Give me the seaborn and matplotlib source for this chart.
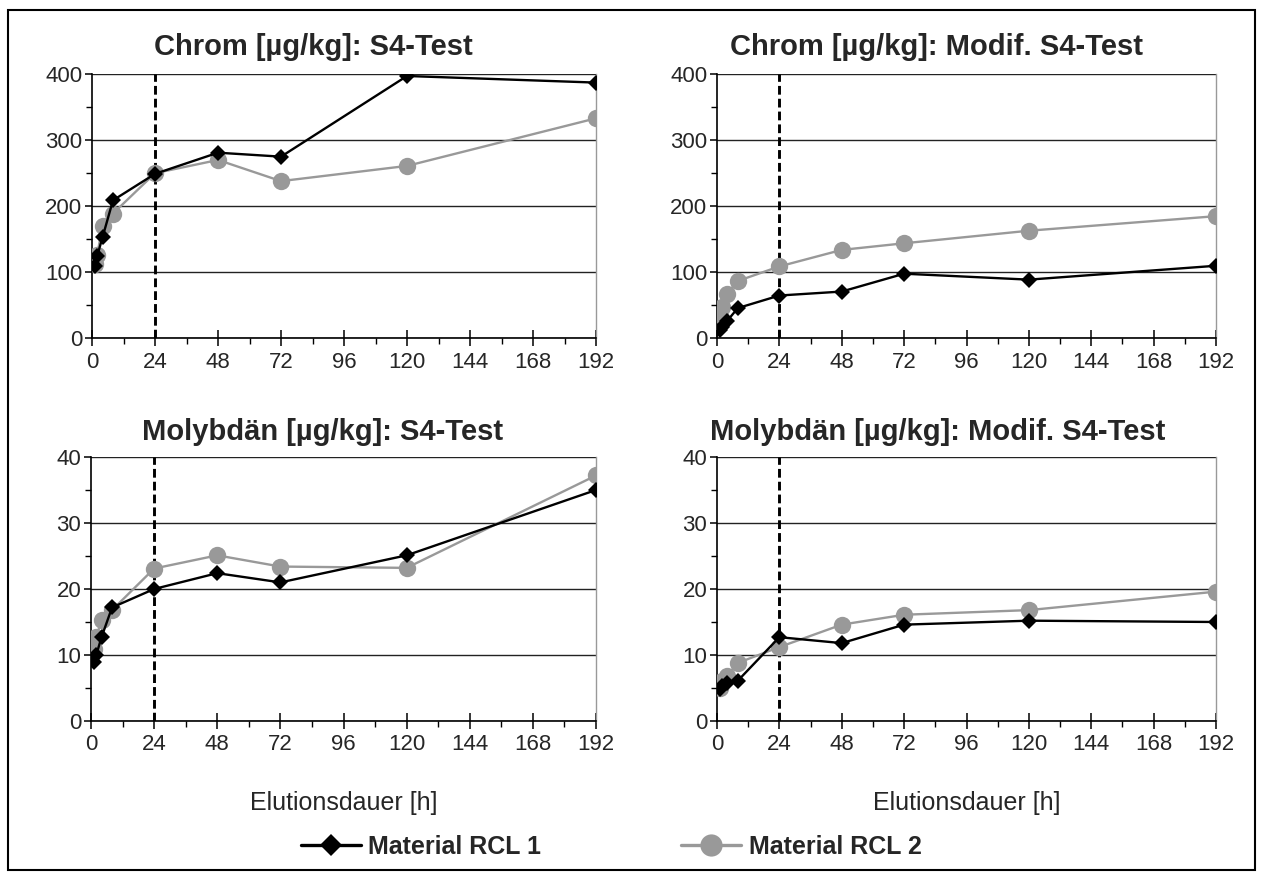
import matplotlib
matplotlib.use("Agg")
import matplotlib.pyplot as plt
from matplotlib.lines import Line2D
from matplotlib.patches import Rectangle
from matplotlib.ticker import MultipleLocator
import seaborn as sns

# Elution times [h]
hours = [1, 2, 4, 8, 24, 48, 72, 120, 192]

# Chromium [µg/kg]
cr_s4_rcl1 = [110, 125, 153, 209, 249, 281, 275, 397, 387]
cr_s4_rcl2 = [113, 127, 170, 189, 250, 270, 238, 261, 333]
cr_mod_rcl1 = [13, 18, 27, 46, 65, 71, 98, 89, 110]
cr_mod_rcl2 = [35, 48, 68, 87, 109, 134, 144, 163, 185]

# Molybdenum [µg/kg]
mo_s4_rcl1 = [9.0, 10.0, 12.7, 17.2, 20.0, 22.4, 21.0, 25.1, 35.0]
mo_s4_rcl2 = [10.9, 12.7, 15.3, 16.8, 23.1, 25.1, 23.4, 23.2, 37.2]
mo_mod_rcl1 = [4.8, 5.3, 5.8, 6.1, 12.7, 11.8, 14.6, 15.2, 15.0]
mo_mod_rcl2 = [5.0, 6.0, 6.8, 8.8, 11.2, 14.6, 16.1, 16.8, 19.6]

titles = [
    "Chrom [µg/kg]: S4-Test",
    "Chrom [µg/kg]: Modif. S4-Test",
    "Molybdän [µg/kg]: S4-Test",
    "Molybdän [µg/kg]: Modif. S4-Test",
]
series_labels = ["Material RCL 1", "Material RCL 2"]
xlabel = "Elutionsdauer [h]"
x_ticks = [0, 24, 48, 72, 96, 120, 144, 168, 192]
cutoff_hour = 24

sns.set_style("white")
plt.rcParams["font.family"] = ["Liberation Sans", "DejaVu Sans"]

W, H = 1263, 880
fig = plt.figure(figsize=(W / 100, H / 100), dpi=100)


def px_rect(left, top, right, bottom):
    return [left / W, 1 - bottom / H, (right - left) / W, (bottom - top) / H]


panels = [
    dict(rect=px_rect(92, 74, 596, 338.5), r1=cr_s4_rcl1, r2=cr_s4_rcl2,
         ymax=400, major=100, minor=50, title=titles[0], tx=313, ty=47),
    dict(rect=px_rect(717, 74, 1216, 338.5), r1=cr_mod_rcl1, r2=cr_mod_rcl2,
         ymax=400, major=100, minor=50, title=titles[1], tx=937, ty=47),
    dict(rect=px_rect(91, 457, 596, 721), r1=mo_s4_rcl1, r2=mo_s4_rcl2,
         ymax=40, major=10, minor=5, title=titles[2], tx=323, ty=432),
    dict(rect=px_rect(717, 457, 1216, 721), r1=mo_mod_rcl1, r2=mo_mod_rcl2,
         ymax=40, major=10, minor=5, title=titles[3], tx=938, ty=432),
]

black = "#000000"
grey = "#999999"

for i, p in enumerate(panels):
    ax = fig.add_axes(p["rect"])
    ax.set_xlim(0, 192)
    ax.set_ylim(0, p["ymax"])

    ax.yaxis.set_major_locator(MultipleLocator(p["major"]))
    ax.yaxis.set_minor_locator(MultipleLocator(p["minor"]))
    ax.set_xticks(x_ticks)
    ax.xaxis.set_minor_locator(MultipleLocator(12))
    ax.grid(axis="y", which="major", color="#222222", linewidth=1.0)
    ax.grid(axis="x", visible=False)
    ax.set_axisbelow(True)

    ax.spines["top"].set_visible(False)
    ax.spines["right"].set_color("#999999")
    ax.spines["right"].set_linewidth(1.0)
    for side in ["left", "bottom"]:
        ax.spines[side].set_color(black)
        ax.spines[side].set_linewidth(1.2)

    ax.tick_params(axis="x", which="major", direction="inout", length=11,
                   width=1.1, color=black, labelsize=16, pad=4)
    ax.tick_params(axis="x", which="minor", direction="out", length=4,
                   width=1.0, color=black)
    ax.tick_params(axis="y", which="major", direction="out", length=5,
                   width=1.1, color=black, labelsize=16, pad=2)
    ax.tick_params(axis="y", which="minor", direction="out", length=4,
                   width=1.0, color=black)
    ax.tick_params(left=True, bottom=True, which="both")

    # boundary of the 24 h standard test
    ax.plot([cutoff_hour, cutoff_hour], [0, p["ymax"]], color=black,
            linewidth=2.1, linestyle=(0, (3.0, 1.4)), zorder=2)

    sns.lineplot(x=hours, y=p["r2"], ax=ax, color=grey, linewidth=1.7,
                 marker="o", markersize=12.5, markeredgewidth=0,
                 markerfacecolor=grey, sort=False, errorbar=None, zorder=3)
    sns.lineplot(x=hours, y=p["r1"], ax=ax, color=black, linewidth=1.7,
                 marker="D", markersize=8, markeredgewidth=0,
                 markerfacecolor=black, sort=False, errorbar=None, zorder=4)

    ax.set_ylabel("")
    ax.set_xlabel("")
    if i >= 2:
        ax.set_xlabel(xlabel, fontsize=18, labelpad=26)

    fig.text(p["tx"] / W, 1 - p["ty"] / H, p["title"], fontsize=21,
             fontweight="bold", ha="center", va="center")

handles = [
    Line2D([], [], color=black, linewidth=2.4, marker="D", markersize=11,
           markeredgewidth=0, markerfacecolor=black),
    Line2D([], [], color=grey, linewidth=2.4, marker="o", markersize=16,
           markeredgewidth=0, markerfacecolor=grey),
]
fig.legend(handles, series_labels, loc="center", ncol=2,
           bbox_to_anchor=(611 / W, 1 - 847 / H), frameon=False,
           prop=dict(size=18, weight="bold"), handlelength=2.4,
           handletextpad=0.3, columnspacing=5.6)

fig.patches.append(Rectangle((8 / W, 1 - 870 / H), (1255 - 8) / W,
                             (870 - 10) / H, transform=fig.transFigure,
                             fill=False, edgecolor=black, linewidth=1.5))

fig.savefig("out.png", dpi=100)
